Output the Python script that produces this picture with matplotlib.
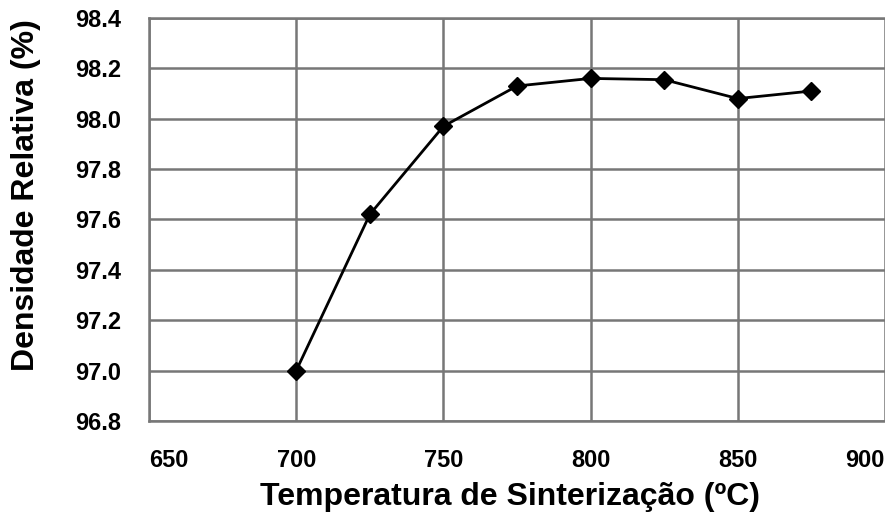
import numpy as np
import matplotlib.pyplot as plt

# sintering temperature (ºC) vs relative density (%)
temperatura = [700, 725, 750, 775, 800, 825, 850, 875]
densidade = [97.00, 97.62, 97.97, 98.13, 98.16, 98.155, 98.08, 98.11]

x_ticks = [650, 700, 750, 800, 850, 900]
y_ticks = [96.8, 97.0, 97.2, 97.4, 97.6, 97.8, 98.0, 98.2, 98.4]

plt.rcParams["font.family"] = ["Liberation Sans", "DejaVu Sans"]

fig = plt.figure(figsize=(8.85, 5.18), dpi=100)
ax = fig.add_axes([0.1684, 0.1873, 0.8316, 0.778])

ax.plot(temperatura, densidade, color="black", lw=2.0, marker="D",
        markersize=9, markerfacecolor="black", markeredgecolor="black", zorder=3)

ax.set_xlim(650, 900)
ax.set_ylim(96.8, 98.4)
ax.set_xticks(x_ticks)
ax.set_yticks(y_ticks)
ax.set_yticklabels([f"{v:.1f}" for v in y_ticks])
ax.grid(True, color="#777777", lw=1.8)
ax.set_axisbelow(True)
for s in ax.spines.values():
    s.set_color("#777777")
    s.set_linewidth(1.8)
ax.spines["right"].set_visible(False)
ax.tick_params(length=0, labelsize=17, pad=20)
ax.tick_params(axis="y", pad=20)
for lbl in ax.get_xticklabels() + ax.get_yticklabels():
    lbl.set_fontweight("bold")
# outermost x labels sit inside the plot edges
xl = ax.get_xticklabels()
xl[0].set_horizontalalignment("left")
xl[-1].set_horizontalalignment("right")

ax.set_xlabel("Temperatura de Sinterização (ºC)", fontsize=23,
              fontweight="bold")
ax.xaxis.set_label_coords(0.49, -0.152)
ax.set_ylabel("Densidade Relativa (%)", fontsize=23, fontweight="bold")
ax.yaxis.set_label_coords(-0.147, 0.56)

fig.savefig("out.png", dpi=100)
